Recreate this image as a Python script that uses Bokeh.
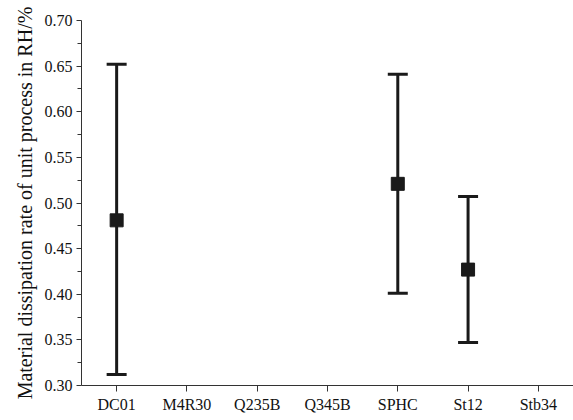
from bokeh.plotting import figure
from bokeh.models import (ColumnDataSource, FactorRange, Range1d, Whisker, TeeHead,
                          FixedTicker)
from bokeh.embed import file_html
from bokeh.resources import INLINE

# Steel grades and their dissipation-rate statistics
grades = ["DC01", "M4R30", "Q235B", "Q345B", "SPHC", "St12", "Stb34"]
data_grades = ["DC01", "SPHC", "St12"]
mean_rate = [0.481, 0.521, 0.427]
upper_rate = [0.652, 0.641, 0.507]
lower_rate = [0.312, 0.401, 0.347]

# y-axis tick positions and labels
y_ticks = [0.30, 0.35, 0.40, 0.45, 0.50, 0.55, 0.60, 0.65, 0.70]
y_tick_labels = ["0.30", "0.35", "0.40", "0.45", "0.50", "0.55", "0.60", "0.65", "0.70"]
y_minor = [0.325, 0.375, 0.425, 0.475, 0.525, 0.575, 0.625, 0.675]

src = ColumnDataSource(dict(x=data_grades, mean=mean_rate, upper=upper_rate, lower=lower_rate))

FONT = "Liberation Serif"
INK = "#1a1a1a"

p = figure(width=573, height=420, output_backend="svg", toolbar_location=None,
           x_range=FactorRange(factors=grades), y_range=Range1d(0.30, 0.70),
           min_border_left=81, min_border_right=0, min_border_top=20, min_border_bottom=35)
p.outline_line_color = None
p.grid.visible = False
p.background_fill_color = "white"

# error bars
w = Whisker(source=src, base="x", upper="upper", lower="lower",
            line_color=INK, line_width=3,
            upper_head=TeeHead(size=20, line_width=3, line_color=INK),
            lower_head=TeeHead(size=20, line_width=3, line_color=INK))
p.add_layout(w)

# mean markers
p.scatter(x="x", y="mean", source=src, marker="square", size=13,
          fill_color=INK, line_color=INK)

# y axis
ya = p.yaxis[0]
ya.ticker = FixedTicker(ticks=y_ticks, minor_ticks=y_minor)
ya.major_label_overrides = {t: s for t, s in zip(y_ticks, y_tick_labels)}
ya.axis_label = "Material dissipation rate of unit process in RH/%"
ya.axis_label_text_font = FONT
ya.axis_label_text_font_style = "normal"
ya.axis_label_text_font_size = "20px"
ya.major_label_text_font = FONT
ya.major_label_text_font_size = "16px"
ya.major_tick_in = 0
ya.major_tick_out = 5
ya.minor_tick_in = 0
ya.minor_tick_out = 4
ya.major_label_standoff = 4
ya.axis_label_standoff = 6

# x axis
xa = p.xaxis[0]
xa.major_label_text_font = FONT
xa.major_label_text_font_size = "16px"
xa.major_tick_in = 0
xa.major_tick_out = 6
xa.major_label_standoff = 4

for ax in (xa, ya):
    ax.axis_line_color = "#333333"
    ax.major_tick_line_color = "#333333"
    ax.minor_tick_line_color = "#333333"
    ax.major_label_text_color = "#111111"
    ax.axis_label_text_color = "#111111"

open("out.html", "w").write(file_html(p, INLINE))
